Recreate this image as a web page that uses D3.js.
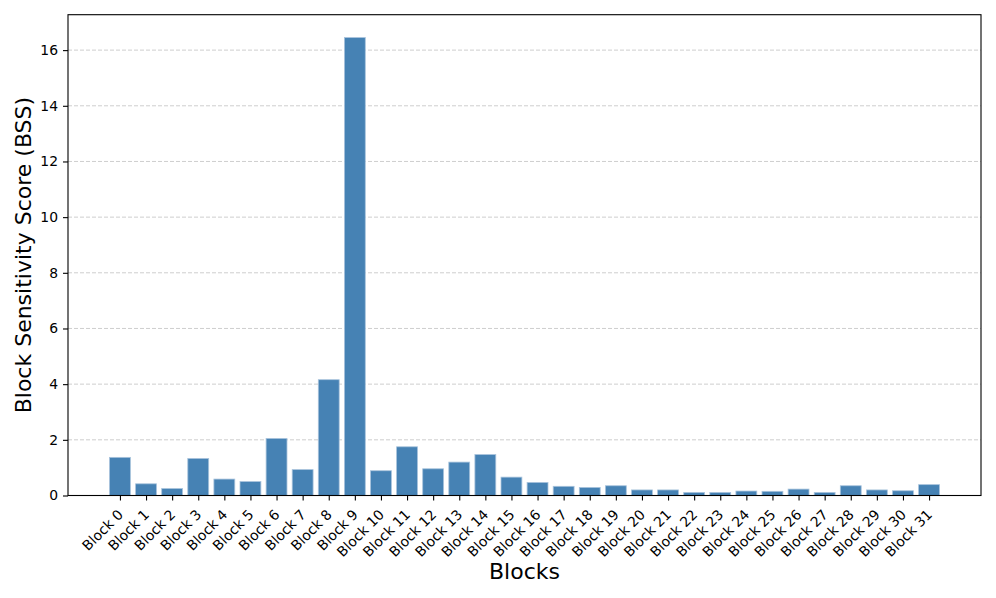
<!DOCTYPE html>
<html>
<head>
<meta charset="utf-8">
<script src="https://cdnjs.cloudflare.com/ajax/libs/d3/7.8.5/d3.min.js"></script>
<style>
  body { margin: 0; background: #fff; }
  svg { display: block; font-family: "DejaVu Sans", sans-serif; }
  .grid line { stroke: #c8c8c8; stroke-dasharray: 4,2; stroke-width: 0.9; }
  .axis path, .axis line { stroke: #000; stroke-width: 1.1; }
  .axis text { fill: #000; font-size: 13.9px; font-family: "DejaVu Sans", sans-serif; }
</style>
</head>
<body>
<svg width="996" height="598"></svg>
<script>
// Data
var blocks = d3.range(32).map(function(i) { return "Block " + i; });
var bss = [1.37, 0.42, 0.25, 1.33, 0.59, 0.50, 2.05, 0.93, 4.16, 16.45,
           0.89, 1.75, 0.96, 1.20, 1.47, 0.66, 0.47, 0.33, 0.29, 0.35,
           0.20, 0.20, 0.11, 0.11, 0.16, 0.15, 0.23, 0.11, 0.35, 0.20,
           0.17, 0.39];
var yTicks = [0, 2, 4, 6, 8, 10, 12, 14, 16];

var svg = d3.select("svg");

// Plot box (matplotlib axes area)
var plotLeft = 68, plotRight = 981, plotTop = 14.7, plotBottom = 495.5;
var barW = 0.8;

// x like matplotlib: auto margin of 5% around the bars
var lo = -barW / 2, hi = bss.length - 1 + barW / 2;
var pad = (hi - lo) * 0.05;
var x = d3.scaleLinear()
    .domain([lo - pad, hi + pad])
    .range([plotLeft, plotRight]);

var y = d3.scaleLinear()
    .domain([0, d3.max(bss) * 1.05])
    .range([plotBottom, plotTop]);

// Grid lines (behind the bars)
svg.append("g")
    .attr("class", "grid")
    .selectAll("line")
    .data(yTicks)
    .enter().append("line")
      .attr("x1", plotLeft)
      .attr("x2", plotRight)
      .attr("y1", function(d) { return y(d); })
      .attr("y2", function(d) { return y(d); });

// Bars
svg.append("g")
    .selectAll("rect")
    .data(bss)
    .enter().append("rect")
      .attr("x", function(d, i) { return x(i - barW / 2); })
      .attr("width", x(barW) - x(0))
      .attr("y", function(d) { return y(d); })
      .attr("height", function(d) { return plotBottom - y(d); })
      .attr("fill", "#4682b4")
      .attr("stroke", "#a8c3dc")
      .attr("stroke-width", 0.8);

// Y axis
var yAxis = svg.append("g")
    .attr("class", "axis")
    .attr("transform", "translate(" + plotLeft + ",0)")
    .call(d3.axisLeft(y).tickValues(yTicks).tickSize(5).tickPadding(5).tickSizeOuter(0));
yAxis.select(".domain").remove();

// X axis
var xAxis = svg.append("g")
    .attr("class", "axis")
    .attr("transform", "translate(0," + plotBottom + ")")
    .call(d3.axisBottom(x)
        .tickValues(d3.range(bss.length))
        .tickFormat(function(i) { return blocks[i]; })
        .tickSize(5)
        .tickSizeOuter(0));
xAxis.select(".domain").remove();
xAxis.selectAll("text")
    .attr("text-anchor", "end")
    .attr("dy", null)
    .attr("y", 0)
    .attr("transform", "translate(3.5,20) rotate(-45)");

// Frame
svg.append("rect")
    .attr("x", plotLeft)
    .attr("y", plotTop)
    .attr("width", plotRight - plotLeft)
    .attr("height", plotBottom - plotTop)
    .attr("fill", "none")
    .attr("stroke", "#000")
    .attr("stroke-width", 1.1);

// Axis titles
svg.append("text")
    .attr("x", (plotLeft + plotRight) / 2)
    .attr("y", 579)
    .attr("text-anchor", "middle")
    .style("font-size", "22px")
    .text("Blocks");

svg.append("text")
    .attr("transform", "translate(31," + (plotTop + plotBottom) / 2 + ") rotate(-90)")
    .attr("text-anchor", "middle")
    .style("font-size", "22px")
    .text("Block Sensitivity Score (BSS)");
</script>
</body>
</html>
